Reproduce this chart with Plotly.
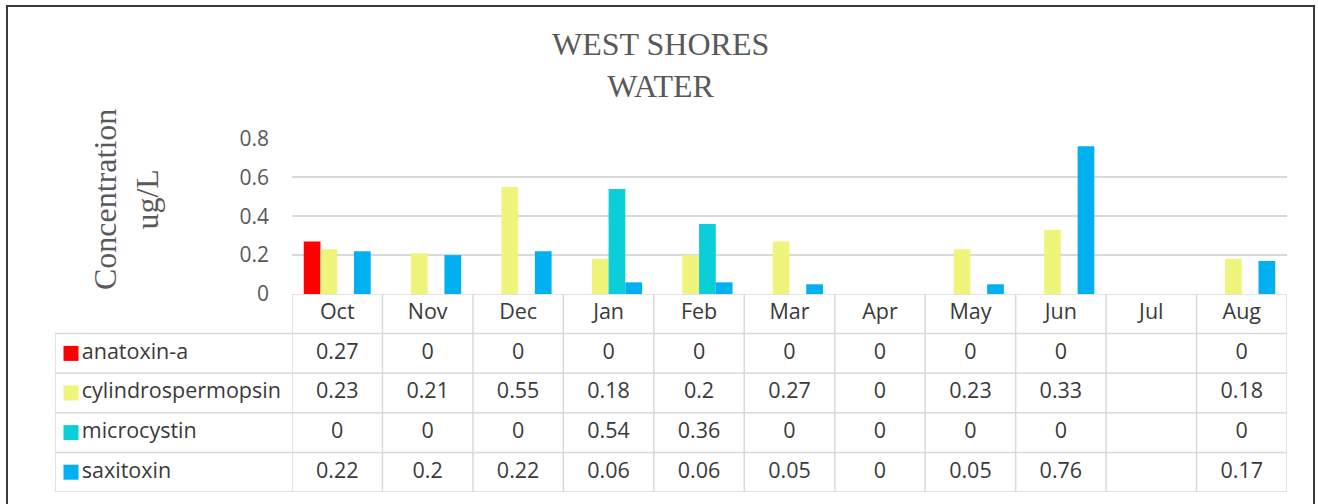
import plotly.graph_objects as go

W, H = 1318, 504

months = ["Oct", "Nov", "Dec", "Jan", "Feb", "Mar", "Apr", "May", "Jun", "Jul", "Aug"]
series_names = ["anatoxin-a", "cylindrospermopsin", "microcystin", "saxitoxin"]
anatoxin_a = [0.27, 0, 0, 0, 0, 0, 0, 0, 0, None, 0]
cylindrospermopsin = [0.23, 0.21, 0.55, 0.18, 0.2, 0.27, 0, 0.23, 0.33, None, 0.18]
microcystin = [0, 0, 0, 0.54, 0.36, 0, 0, 0, 0, None, 0]
saxitoxin = [0.22, 0.2, 0.22, 0.06, 0.06, 0.05, 0, 0.05, 0.76, None, 0.17]
y_ticks = [0, 0.2, 0.4, 0.6, 0.8]
y_tick_labels = ["0", "0.2", "0.4", "0.6", "0.8"]

series_values = [anatoxin_a, cylindrospermopsin, microcystin, saxitoxin]
colors = ["#FF0000", "#EEF57A", "#0ACFD8", "#00B0F0"]

TABLE_FONT = "Open Sans, Liberation Sans, sans-serif"
SERIF = "Liberation Serif, Times New Roman, serif"
GRID = "#D9D9D9"
TXT = "#3A3A3A"
FS = 21.5

fig = go.Figure()

for name, vals, col in zip(series_names, series_values, colors):
    fig.add_trace(go.Bar(x=months, y=vals, name=name, marker=dict(color=col, line=dict(width=0)),
                         xaxis="x", yaxis="y", hoverinfo="x+y+name"))

fig.add_trace(go.Scatter(x=months, y=[0] * len(months), mode="text", text=months,
                         textfont=dict(family=TABLE_FONT, size=FS, color=TXT),
                         xaxis="x", yaxis="y2", hoverinfo="skip"))


def fmt(v):
    if v is None:
        return ""
    return f"{v:g}"


for r, vals in enumerate(series_values, start=1):
    fig.add_trace(go.Scatter(x=months, y=[r] * len(months), mode="text",
                             text=[fmt(v) for v in vals],
                             textfont=dict(family=TABLE_FONT, size=FS, color=TXT),
                             xaxis="x", yaxis="y2", hoverinfo="skip"))

rows = list(range(1, len(series_names) + 1))
fig.add_trace(go.Scatter(x=[0.0675] * len(rows), y=rows, mode="markers",
                         marker=dict(symbol="square", size=15, color=colors, line=dict(width=0)),
                         xaxis="x2", yaxis="y2", hoverinfo="skip"))
fig.add_trace(go.Scatter(x=[0.113] * len(rows), y=rows, mode="text", text=series_names,
                         textposition="middle right",
                         textfont=dict(family=TABLE_FONT, size=FS, color=TXT),
                         xaxis="x2", yaxis="y2", hoverinfo="skip"))

shapes = []
n = len(months)
for b in [-0.5, 0.5, 1.5, 2.5, 3.5, 4.5]:
    shapes.append(dict(type="line", xref="x", yref="y2", x0=-0.5, x1=n - 0.5, y0=b, y1=b,
                       line=dict(color=GRID, width=1.5)))
for b in [0.5, 1.5, 2.5, 3.5, 4.5]:
    shapes.append(dict(type="line", xref="x2", yref="y2", x0=0, x1=1, y0=b, y1=b,
                       line=dict(color=GRID, width=1.5)))
for i in range(n + 1):
    shapes.append(dict(type="line", xref="x", yref="y2", x0=i - 0.5, x1=i - 0.5, y0=-0.5, y1=4.5,
                       line=dict(color=GRID, width=1.5)))
shapes.append(dict(type="line", xref="x2", yref="y2", x0=0, x1=0, y0=0.5, y1=4.5,
                   line=dict(color=GRID, width=1.5)))
shapes.append(dict(type="rect", xref="paper", yref="paper", x0=7 / W, x1=1314 / W, y0=-0.1, y1=1 - 6 / H,
                   line=dict(color="#3A3A3A", width=2), fillcolor="rgba(0,0,0,0)"))

fig.update_layout(
    template="none",
    width=W, height=H,
    margin=dict(l=0, r=0, t=0, b=0, pad=0, autoexpand=False),
    paper_bgcolor="white", plot_bgcolor="white",
    showlegend=False,
    barmode="group", bargap=0.26, bargroupgap=0,
    xaxis=dict(domain=[292 / W, 1287 / W], range=[-0.5, n - 0.5], type="category",
               showticklabels=False, showgrid=False, zeroline=False, showline=False, ticks="",
               anchor="y", fixedrange=True, automargin=False),
    yaxis=dict(domain=[(H - 294) / H, (H - 138.5) / H], range=[0, 0.8],
               tickvals=y_ticks, ticktext=y_tick_labels,
               tickfont=dict(family=TABLE_FONT, size=21, color="#595959"),
               showgrid=True, gridcolor=GRID, gridwidth=1.5, zeroline=False, showline=False,
               ticks="", ticklabelstandoff=22, anchor="x", fixedrange=True, automargin=False),
    yaxis2=dict(domain=[(H - 492) / H, (H - 294) / H], range=[4.5, -0.5],
                visible=False, anchor="x", fixedrange=True, automargin=False),
    xaxis2=dict(domain=[55 / W, 292 / W], range=[0, 1], visible=False, anchor="y2",
                fixedrange=True, automargin=False),
    shapes=shapes,
    annotations=[
        dict(text="WEST SHORES<br>WATER", xref="paper", yref="paper", x=660 / W, y=1 - 65 / H,
             xanchor="center", yanchor="middle", showarrow=False,
             font=dict(family=SERIF, size=32, color="#595959")),
        dict(text="Concentration<br>ug/L", xref="paper", yref="paper", x=126 / W, y=1 - 200 / H,
             xanchor="center", yanchor="middle", showarrow=False, textangle=-90,
             font=dict(family=SERIF, size=32, color="#595959")),
    ],
)

fig.write_html(
    "out.html",
    config={"displayModeBar": False},
    post_script=(
        "document.documentElement.style.overflow='hidden';"
        "document.body.style.margin='0';document.body.style.overflow='hidden';"
        "var d=document.getElementById('{plot_id}');"
        "d.style.position='fixed';d.style.left='0px';d.style.top='0px';"
    ),
)
